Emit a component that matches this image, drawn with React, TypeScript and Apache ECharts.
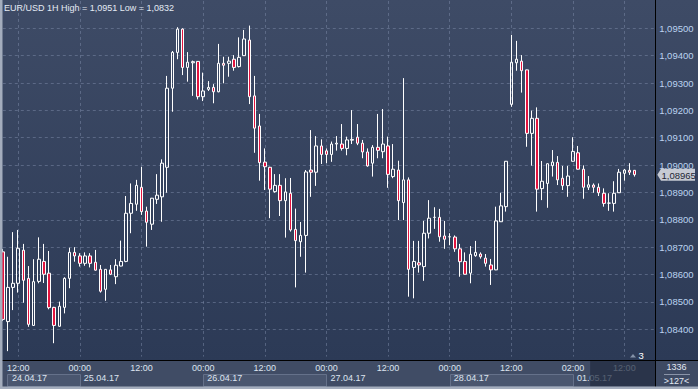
import React, { useEffect, useRef } from 'react';
import * as echarts from 'echarts';

const TITLE = 'EUR/USD 1H High = 1,0951 Low = 1,0832';
const FONT = '"Liberation Sans", Arial, sans-serif';

// trading sessions shown: [date, first hour, last hour] (last 4 hours of 01.05 are empty shift bars)
const SESSIONS: [string, number, number][] = [
  ['24.04.17', 9, 23],
  ['25.04.17', 0, 23],
  ['26.04.17', 0, 23],
  ['27.04.17', 0, 23],
  ['28.04.17', 0, 23],
  ['01.05.17', 2, 18],
];

// [open, close, low, high]
const CANDLES: number[][] = [
  [1.08683, 1.08436, 1.0843, 1.08693],
  [1.08428, 1.08553, 1.0832, 1.08665],
  [1.08553, 1.08568, 1.0847, 1.08755],
  [1.08568, 1.08696, 1.08534, 1.08763],
  [1.08689, 1.08579, 1.08497, 1.08712],
  [1.08586, 1.08418, 1.08409, 1.08631],
  [1.08414, 1.08574, 1.08412, 1.08656],
  [1.08575, 1.08656, 1.08568, 1.08736],
  [1.08648, 1.08601, 1.08569, 1.08712],
  [1.08605, 1.08479, 1.08473, 1.08686],
  [1.0848, 1.08414, 1.08349, 1.08482],
  [1.08411, 1.08484, 1.08409, 1.08501],
  [1.0848, 1.08586, 1.08458, 1.0859],
  [1.08586, 1.08681, 1.0855, 1.08698],
  [1.08681, 1.08668, 1.08647, 1.087],
  [1.08668, 1.08641, 1.08629, 1.08678],
  [1.08641, 1.08668, 1.08632, 1.08681],
  [1.08668, 1.08641, 1.08626, 1.08678],
  [1.08645, 1.08616, 1.08614, 1.0869],
  [1.08619, 1.08539, 1.08534, 1.08635],
  [1.08546, 1.08619, 1.08504, 1.0862],
  [1.08617, 1.08601, 1.08598, 1.08635],
  [1.08592, 1.08634, 1.08565, 1.08656],
  [1.08631, 1.08648, 1.0863, 1.08724],
  [1.08648, 1.08824, 1.08645, 1.08887],
  [1.08824, 1.0886, 1.08751, 1.08933],
  [1.08857, 1.08926, 1.08833, 1.08946],
  [1.08919, 1.0883, 1.08818, 1.08994],
  [1.08832, 1.08791, 1.08702, 1.08848],
  [1.08784, 1.08879, 1.08763, 1.0888],
  [1.08875, 1.0889, 1.08858, 1.08967],
  [1.08884, 1.09007, 1.08793, 1.09021],
  [1.08992, 1.09281, 1.08899, 1.09326],
  [1.09281, 1.09412, 1.09195, 1.09417],
  [1.09412, 1.09497, 1.09387, 1.09504],
  [1.09497, 1.09357, 1.09329, 1.095],
  [1.09357, 1.09376, 1.09305, 1.09413],
  [1.09374, 1.09378, 1.09253, 1.09382],
  [1.09379, 1.0925, 1.0924, 1.0938],
  [1.0925, 1.09271, 1.09234, 1.09338],
  [1.09277, 1.09284, 1.09271, 1.09307],
  [1.09284, 1.09268, 1.09226, 1.09296],
  [1.09268, 1.09372, 1.09266, 1.09443],
  [1.09372, 1.09365, 1.09299, 1.09396],
  [1.09372, 1.0938, 1.09323, 1.09396],
  [1.09387, 1.09357, 1.09345, 1.09402],
  [1.0936, 1.09394, 1.09357, 1.09467],
  [1.094, 1.09461, 1.09399, 1.09494],
  [1.09457, 1.0925, 1.09223, 1.0951],
  [1.09253, 1.09135, 1.09045, 1.09326],
  [1.09143, 1.09009, 1.08943, 1.09187],
  [1.09011, 1.08994, 1.08909, 1.09061],
  [1.08992, 1.08912, 1.08806, 1.08994],
  [1.08903, 1.08926, 1.08899, 1.08967],
  [1.08926, 1.0887, 1.08814, 1.08967],
  [1.0887, 1.08902, 1.08735, 1.08952],
  [1.08897, 1.08763, 1.08757, 1.08953],
  [1.08765, 1.08724, 1.08553, 1.08841],
  [1.0872, 1.08743, 1.08665, 1.08792],
  [1.08743, 1.08975, 1.08607, 1.08982],
  [1.08982, 1.08974, 1.08884, 1.09128],
  [1.08974, 1.0907, 1.08924, 1.09106],
  [1.0907, 1.09039, 1.09004, 1.09094],
  [1.09052, 1.09039, 1.09007, 1.09061],
  [1.09039, 1.09077, 1.09012, 1.09086],
  [1.09077, 1.0908, 1.09053, 1.09106],
  [1.09077, 1.09061, 1.09053, 1.0915],
  [1.09061, 1.09092, 1.09036, 1.09104],
  [1.09091, 1.09094, 1.09077, 1.09201],
  [1.09102, 1.0908, 1.09073, 1.0915],
  [1.0908, 1.09048, 1.09025, 1.09092],
  [1.09048, 1.08997, 1.08994, 1.09061],
  [1.09007, 1.09065, 1.08958, 1.09073],
  [1.09065, 1.09054, 1.09025, 1.09187],
  [1.09049, 1.09077, 1.09025, 1.09205],
  [1.0907, 1.08966, 1.08917, 1.09104],
  [1.08958, 1.08985, 1.08952, 1.09077],
  [1.08982, 1.0887, 1.08799, 1.09016],
  [1.08863, 1.08946, 1.08799, 1.09318],
  [1.08946, 1.08619, 1.08519, 1.08955],
  [1.08626, 1.08648, 1.08513, 1.08723],
  [1.08643, 1.08635, 1.08607, 1.08723],
  [1.08629, 1.08751, 1.08577, 1.08796],
  [1.08751, 1.08806, 1.08732, 1.08872],
  [1.08809, 1.08809, 1.08767, 1.08846],
  [1.08809, 1.08738, 1.0872, 1.0884],
  [1.08741, 1.08729, 1.08694, 1.08796],
  [1.08738, 1.08738, 1.08707, 1.08751],
  [1.08737, 1.08694, 1.08683, 1.08743],
  [1.08694, 1.08647, 1.08592, 1.08712],
  [1.08648, 1.08601, 1.086, 1.08681],
  [1.08605, 1.08674, 1.08568, 1.08704],
  [1.08669, 1.08681, 1.08665, 1.08723],
  [1.08675, 1.08665, 1.08658, 1.08681],
  [1.0866, 1.08641, 1.08629, 1.08675],
  [1.08635, 1.08617, 1.08562, 1.08657],
  [1.08617, 1.08796, 1.08616, 1.08848],
  [1.08793, 1.08851, 1.08792, 1.08899],
  [1.08848, 1.09014, 1.0883, 1.09015],
  [1.09222, 1.09376, 1.09213, 1.09476],
  [1.09374, 1.09387, 1.09345, 1.09454],
  [1.0938, 1.09345, 1.09265, 1.09402],
  [1.09348, 1.09116, 1.09067, 1.09349],
  [1.09116, 1.09171, 1.08998, 1.09199],
  [1.09171, 1.08912, 1.0883, 1.09211],
  [1.08914, 1.08941, 1.08872, 1.09015],
  [1.08933, 1.09005, 1.08844, 1.09006],
  [1.08998, 1.09011, 1.08958, 1.09055],
  [1.0901, 1.08946, 1.08927, 1.09033],
  [1.08952, 1.08925, 1.08909, 1.08997],
  [1.08925, 1.0896, 1.08884, 1.08997],
  [1.09014, 1.0905, 1.09013, 1.09102],
  [1.09045, 1.08985, 1.08984, 1.0907],
  [1.08985, 1.08919, 1.08877, 1.08999],
  [1.08919, 1.08928, 1.08909, 1.0896],
  [1.08927, 1.08919, 1.08899, 1.08933],
  [1.08919, 1.08899, 1.08887, 1.08933],
  [1.08897, 1.0886, 1.08848, 1.08915],
  [1.08861, 1.08861, 1.08833, 1.08897],
  [1.0886, 1.08897, 1.0883, 1.08941],
  [1.08899, 1.08974, 1.08898, 1.08986],
  [1.0897, 1.08982, 1.08943, 1.08986],
  [1.08981, 1.08974, 1.08964, 1.09007],
  [1.08981, 1.08965, 1.08958, 1.08982],
];

const Y_MIN = 1.083;
const Y_MAX = 1.096;
const Y_STEP = 0.001;
const Y_LABEL_LOW = 1.0835;
const Y_LABEL_HIGH = 1.0955;
const BAR_TOTAL = '1336';
const SHIFT_TEXT = '>127<';
const SHIFT_BARS = '3';
const BOXED_DAYS = [0, 2, 4];

const categories: string[] = [];
SESSIONS.forEach(([d, a, b]) => {
  for (let h = a; h <= b; h++) categories.push(`${d} ${String(h).padStart(2, '0')}:00`);
});
const dayOf = (i: number) => categories[i].slice(0, 8);
const hourOf = (i: number) => categories[i].slice(9);
const isDayStart = (i: number) => i > 0 && dayOf(i) !== dayOf(i - 1);
const showHour = (i: number) =>
  isDayStart(i) || hourOf(i) === '00:00' || hourOf(i) === '12:00';
const showDate = (i: number) => i === 1 || isDayStart(i);

const fmtPrice = (v: number) => v.toFixed(5).replace('.', ',');

export default function App() {
  const ref = useRef<HTMLDivElement>(null);
  useEffect(() => {
    document.body.style.margin = '0';
    const chart = echarts.init(ref.current!, null, { renderer: 'svg' });
    const dash = { type: [3, 3] as any, color: 'rgba(125,140,170,0.5)', width: 1 };
    chart.setOption({
      animation: false,
      title: {
        text: TITLE,
        left: 4,
        top: 3.5,
        padding: 0,
        textStyle: { color: '#e4eaf4', fontSize: 9, fontWeight: 'normal', fontFamily: FONT },
      },
      grid: {
        left: 2.8,
        top: 0.94,
        width: 652.4,
        height: 355.68,
        containLabel: false,
        outerBoundsMode: 'none',
      },
      xAxis: [
        {
          type: 'category',
          data: categories,
          boundaryGap: false,
          axisLine: { show: false },
          axisTick: { show: false },
          splitLine: { show: true, interval: (i: number) => showHour(i), lineStyle: dash },
          axisLabel: {
            interval: (i: number) => showHour(i),
            formatter: (v: string) => v.slice(9),
            color: '#dde4f0',
            fontSize: 9,
            fontFamily: FONT,
            margin: 7,
            hideOverlap: false,
          },
        },
        {
          type: 'category',
          data: categories,
          boundaryGap: false,
          position: 'bottom',
          axisLine: { show: false },
          axisTick: { show: false },
          splitLine: { show: false },
          axisLabel: {
            interval: (i: number) => showDate(i),
            formatter: (v: string) => v.slice(0, 8),
            color: '#dde4f0',
            fontSize: 9,
            fontFamily: FONT,
            margin: 17,
            align: 'left',
            padding: [0, 0, 0, 4],
            hideOverlap: false,
          },
        },
      ],
      yAxis: {
        type: 'value',
        position: 'right',
        min: Y_MIN,
        max: Y_MAX,
        interval: Y_STEP,
        axisLine: { show: false },
        axisTick: { show: false },
        splitLine: { show: true, showMinLine: false, showMaxLine: false, lineStyle: dash },
        axisLabel: {
          margin: 4,
          color: '#bcd3f0',
          fontSize: 9.5,
          fontFamily: FONT,
          showMinLabel: false,
          showMaxLabel: false,
          formatter: (v: number) => (v < Y_LABEL_LOW || v > Y_LABEL_HIGH ? '' : fmtPrice(v)),
        },
      },
      series: [
        {
          type: 'candlestick',
          data: CANDLES,
          barWidth: 3,
          clip: true,
          itemStyle: {
            color: 'rgba(0,0,0,0)',
            color0: '#e3143f',
            borderColor: '#ffffff',
            borderColor0: '#ffffff',
            borderWidth: 1,
          },
        },
      ],
    });

    const px = (i: number) => chart.convertToPixel({ xAxisIndex: 0 }, categories[i]) as number;
    const lastClose = CANDLES[CANDLES.length - 1][1];
    const ly = chart.convertToPixel({ yAxisIndex: 0 }, lastClose) as number;
    const starts: number[] = [0];
    categories.forEach((_, i) => { if (isDayStart(i)) starts.push(i); });
    const lastDataX = px(CANDLES.length - 1);

    const g: any[] = [];
    g.push({ type: 'rect', silent: true, z: -2, shape: { x: 0, y: 360, width: 698, height: 29 }, style: { fill: '#404c65' } });
    BOXED_DAYS.forEach((k) => {
      const x0 = k === 0 ? px(1) - 0.6 : px(starts[k]);
      const x1 = px(starts[k + 1]);
      g.push({
        type: 'rect', silent: true, z: -1,
        shape: { x: Math.round(x0) + 0.5, y: 374.5, width: Math.round(x1 - x0), height: 12 },
        style: { fill: '#4a566f', stroke: '#65718a', lineWidth: 1 },
      });
    });
    // shift (empty future bars) overlay on the time axis
    g.push({ type: 'rect', silent: true, z: 20, shape: { x: lastDataX - 44.5, y: 361, width: 655 - (lastDataX - 44.5), height: 25.5 }, style: { fill: 'rgba(33,43,64,0.72)' } });
    // bottom right info box
    g.push({ type: 'rect', silent: true, z: 21, shape: { x: 655.5, y: 360.5, width: 42.5, height: 26 }, style: { fill: '#3e4a63' } });
    g.push({ type: 'text', silent: true, z: 22, x: 676.5, y: 367, style: { text: BAR_TOTAL, fill: '#e2e8f2', fontSize: 9, fontFamily: FONT, align: 'center', verticalAlign: 'middle' } });
    g.push({ type: 'line', silent: true, z: 22, shape: { x1: 664, y1: 374.5, x2: 690, y2: 374.5 }, style: { stroke: '#8a94a8', lineWidth: 1 } });
    g.push({ type: 'text', silent: true, z: 22, x: 676.5, y: 381, style: { text: SHIFT_TEXT, fill: '#e2e8f2', fontSize: 9, fontFamily: FONT, align: 'center', verticalAlign: 'middle' } });
    // separators
    g.push({ type: 'line', silent: true, z: 23, shape: { x1: 655.5, y1: 0, x2: 655.5, y2: 389 }, style: { stroke: '#000000', lineWidth: 1 } });
    g.push({ type: 'line', silent: true, z: 23, shape: { x1: 0, y1: 360.5, x2: 698, y2: 360.5 }, style: { stroke: '#000000', lineWidth: 1 } });
    // frame
    g.push({ type: 'rect', silent: true, z: 24, shape: { x: 0, y: 0, width: 2.5, height: 389 }, style: { fill: '#a4adbd' } });
    g.push({ type: 'rect', silent: true, z: 24, shape: { x: 0, y: 386.5, width: 698, height: 2.5 }, style: { fill: '#a4adbd' } });
    // shift marker
    g.push({ type: 'polygon', silent: true, z: 24, shape: { points: [[630, 357.5], [633, 354], [636, 357.5]] }, style: { fill: '#8492a8' } });
    g.push({ type: 'text', silent: true, z: 24, x: 638.5, y: 355.5, style: { text: SHIFT_BARS, fill: '#ffffff', fontSize: 9.5, fontFamily: FONT, verticalAlign: 'middle' } });
    // last price flag
    g.push({
      type: 'polygon', silent: true, z: 25,
      shape: { points: [[657.3, ly], [661, ly - 6], [695, ly - 6], [695, ly + 6], [661, ly + 6]] },
      style: { fill: '#c6cad3' },
    });
    g.push({ type: 'text', silent: true, z: 26, x: 661.5, y: ly + 0.5, style: { text: fmtPrice(lastClose), fill: '#1f2733', fontSize: 9.5, fontFamily: FONT, verticalAlign: 'middle' } });

    chart.setOption({ graphic: g });
    return () => chart.dispose();
  }, []);
  return (
    <div
      ref={ref}
      style={{
        width: 698,
        height: 389,
        background: 'linear-gradient(to bottom, #3e4b66 0px, #2c3a56 360px, #2c3a56 389px)',
      }}
    />
  );
}
